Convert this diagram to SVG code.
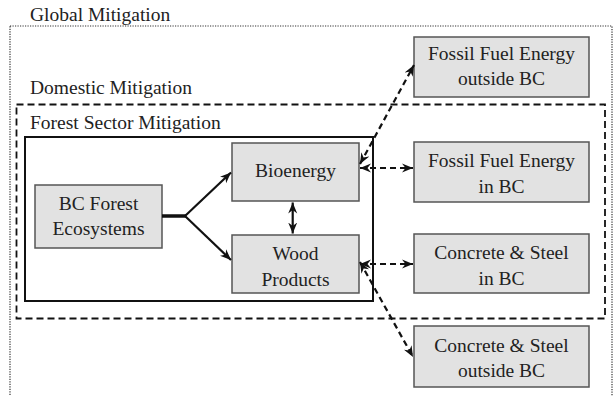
<svg xmlns="http://www.w3.org/2000/svg" width="614" height="396" viewBox="0 0 614 396">
<style>
text{font-family:"Liberation Serif","DejaVu Serif",serif;font-size:19.5px;fill:#222}
.c{text-anchor:middle}
.box{fill:#e2e2e2;stroke:#555;stroke-width:1.5}
.dash{fill:none;stroke:#111;stroke-width:2.2;stroke-dasharray:6 4}
.solid{fill:none;stroke:#111;stroke-width:2.2}
</style>
<defs>
<marker id="ah" markerUnits="userSpaceOnUse" markerWidth="12" markerHeight="10" refX="11" refY="5" orient="auto-start-reverse" viewBox="0 0 12 10">
<path d="M0,0.5 L11,5 L0,9.5 L3.5,5 z" fill="#111"/>
</marker>
</defs>
<g id="regions">
<rect x="10" y="26" width="602" height="380" fill="none" stroke="#333" stroke-width="1.2" stroke-dasharray="1.2 1.3"/>
<text x="30" y="21">Global Mitigation</text>
<rect x="16.5" y="104.5" width="588.5" height="214" fill="none" stroke="#111" stroke-width="1.8" stroke-dasharray="7 4"/>
<text x="30" y="94">Domestic Mitigation</text>
<rect x="25" y="137" width="348" height="164" fill="none" stroke="#111" stroke-width="2"/>
<text x="30" y="129">Forest Sector Mitigation</text>
</g>
<g id="bcforest">
<rect class="box" x="35" y="185" width="127" height="63"/>
<text class="c" x="98.5" y="210">BC Forest</text>
<text class="c" x="98.5" y="235">Ecosystems</text>
</g>
<g id="bioenergy">
<rect class="box" x="232" y="143" width="127" height="58"/>
<text class="c" x="295.5" y="177">Bioenergy</text>
</g>
<g id="wood">
<rect class="box" x="232" y="235" width="127" height="58"/>
<text class="c" x="295.5" y="259.5">Wood</text>
<text class="c" x="295.5" y="285.5">Products</text>
</g>
<g id="ff-outside">
<rect class="box" x="414" y="37" width="175" height="60"/>
<text class="c" x="501.5" y="60">Fossil Fuel Energy</text>
<text class="c" x="501.5" y="85">outside BC</text>
</g>
<g id="ff-in">
<rect class="box" x="414" y="142" width="175" height="60"/>
<text class="c" x="501.5" y="166.5">Fossil Fuel Energy</text>
<text class="c" x="501.5" y="192.5">in BC</text>
</g>
<g id="cs-in">
<rect class="box" x="414" y="234" width="175" height="59"/>
<text class="c" x="501.5" y="259">Concrete &amp; Steel</text>
<text class="c" x="501.5" y="285">in BC</text>
</g>
<g id="cs-outside">
<rect class="box" x="414" y="326" width="175" height="61"/>
<text class="c" x="501.5" y="351.5">Concrete &amp; Steel</text>
<text class="c" x="501.5" y="376.5">outside BC</text>
</g>
<g id="connectors">
<line x1="162" y1="216" x2="186" y2="216" stroke="#111" stroke-width="3.5"/>
<line class="solid" x1="185" y1="216" x2="231" y2="172.5" marker-end="url(#ah)"/>
<line class="solid" x1="185" y1="216" x2="231" y2="260" marker-end="url(#ah)"/>
<line class="solid" x1="292.7" y1="202.5" x2="292.7" y2="233.5" marker-start="url(#ah)" marker-end="url(#ah)"/>
<line class="dash" x1="360" y1="168" x2="413" y2="168" marker-start="url(#ah)" marker-end="url(#ah)"/>
<line class="dash" x1="360" y1="264" x2="413" y2="264" marker-start="url(#ah)" marker-end="url(#ah)"/>
<line class="dash" x1="360" y1="164" x2="414" y2="65" marker-start="url(#ah)" marker-end="url(#ah)"/>
<line class="dash" x1="360" y1="262" x2="413" y2="357" marker-start="url(#ah)" marker-end="url(#ah)"/>
</g>
</svg>
